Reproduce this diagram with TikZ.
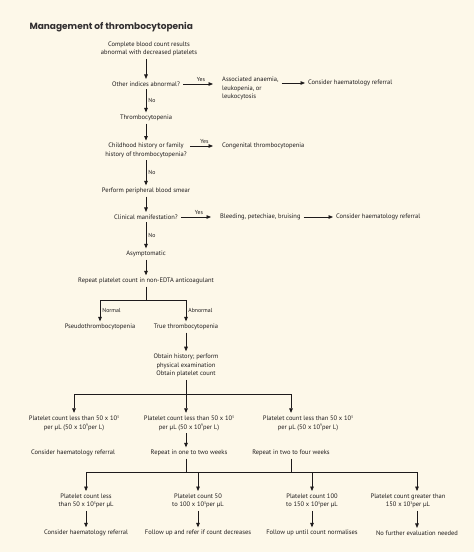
\documentclass[tikz,border=0pt]{standalone}
\usepackage{fontspec}
\setmainfont{PT Sans}
\newfontfamily\headfont{Poppins}
\usetikzlibrary{arrows.meta, positioning}
\definecolor{paper}{RGB}{253,248,233}
\definecolor{ink}{RGB}{30,27,28}
\definecolor{headink}{RGB}{50,47,48}
\newcommand{\pw}[1]{\raisebox{0.75ex}{\fontsize{3.6}{4}\selectfont #1}}

\begin{document}
\begin{tikzpicture}[
  x=1pt, y=1pt,
  >={Triangle[length=4.5pt, width=3.6pt]},
  txt/.style={inner xsep=3pt, inner ysep=2.5pt, align=center, text=ink, font=\fontsize{6.5}{8.6}\selectfont},
  side/.style={txt, anchor=west, align=left},
  tag/.style={inner sep=2pt, text=ink, font=\fontsize{5.8}{6}\selectfont},
  wire/.style={draw=ink, line width=0.75pt},
  flow/.style={wire, ->}
]
\fill[paper] (0,0) rectangle (474,-552);
\node[anchor=west, text=headink, font=\headfont\bfseries\fontsize{9}{10}\selectfont] (head) at (26,-27) {Management of thrombocytopenia};

\node[txt] (cbc) at (149,-49) {Complete blood count results\\abnormal with decreased platelets};
\node[txt] (oth) at (146,-84) {Other indices abnormal?};
\node[side] (assoc) at (219,-88.5) {Associated anaemia,\\leukopenia, or\\leukocytosis};
\node[side] (ref1) at (305,-83) {Consider haematology referral};
\node[txt] (thr) at (146,-118) {Thrombocytopenia};
\node[txt] (child) at (146,-150.5) {Childhood history or family\\history of thrombocytopenia?};
\node[side] (cong) at (219,-146) {Congenital thrombocytopenia};
\node[txt] (smear) at (146,-191) {Perform peripheral blood smear};
\node[txt] (clin) at (146,-217) {Clinical manifestation?};
\node[side] (bleed) at (217,-217) {Bleeding, petechiae, bruising};
\node[side] (ref2) at (333,-217) {Consider haematology referral};
\node[txt] (asym) at (146,-254) {Asymptomatic};
\node[txt] (rep) at (146,-281) {Repeat platelet count in non-EDTA anticoagulant};
\coordinate (split) at (146,-300);
\node[txt] (pseudo) at (100,-327) {Pseudothrombocytopenia};
\node[txt] (truet) at (186,-327) {True thrombocytopenia};
\node[txt] (hist) at (186,-365.5) {Obtain history; perform\\physical examination\\Obtain platelet count};
\coordinate (fork) at (186,-394);
\node[txt] (low) at (74,-423) {Platelet count less than 50 x 10\pw{3}\\per µL (50 x 10\pw{9}per L)};
\node[txt] (mid) at (189,-423) {Platelet count less than 50 x 10\pw{3}\\per µL (50 x 10\pw{9}per L)};
\node[txt] (high) at (308,-423) {Platelet count less than 50 x 10\pw{3}\\per µL (50 x 10\pw{9}per L)};
\node[txt] (ref3) at (73,-453) {Consider haematology referral};
\node[txt] (rpt1) at (189,-453) {Repeat in one to two weeks};
\node[txt] (rpt2) at (291,-453) {Repeat in two to four weeks};
\coordinate (bar) at (0,-472);
\node[txt] (b1) at (86,-501) {Platelet count less\\than 50 x 10\pw{3}per µL};
\node[txt] (b2) at (198,-501) {Platelet count 50\\to 100 x 10\pw{3}per µL};
\node[txt] (b3) at (312,-501) {Platelet count 100\\to 150 x 10\pw{3}per µL};
\node[txt] (b4) at (408,-501) {Platelet count greater than\\150 x 10\pw{3}per µL};
\node[txt] (e1) at (86,-533) {Consider haematology referral};
\node[txt] (e2) at (198,-533) {Follow up and refer if count decreases};
\node[txt] (e3) at (312,-533) {Follow up until count normalises};
\node[txt] (e4) at (417,-533) {No further evaluation needed};

\draw[flow] (cbc.south -| oth) -- (oth);
\draw[flow, shorten >=6pt] (oth) -- node[tag, above]{Yes} (oth -| assoc.west);
\draw[flow] (assoc.east |- ref1) -- (ref1);
\draw[flow] (oth) -- node[tag, right]{No} (thr);
\draw[flow] (thr) -- (child);
\draw[flow, shorten >=6pt] (child.east |- cong) -- node[tag, above]{Yes} (cong.west);
\draw[flow] (child) -- node[tag, right]{No} (smear);
\draw[flow] (smear) -- (clin);
\draw[flow, shorten >=6pt] (clin) -- node[tag, above]{Yes} (bleed.west);
\draw[flow] (bleed) -- (ref2);
\draw[flow] (clin) -- node[tag, right]{No} (asym);
\draw[flow] (asym) -- (rep);
\draw[wire] (rep) -- (split);
\draw[flow] (split) -| node[tag, pos=0.75, right]{Normal} (pseudo);
\draw[flow] (split) -| node[tag, pos=0.75, right]{Abnormal} (truet);
\draw[flow] (truet) -- (hist);
\draw[wire] (hist) -- (fork);
\draw[flow] (fork) -| (low);
\draw[flow] (fork) -- (mid.north -| fork);
\draw[flow] (fork) -| (high.north -| rpt2);
\draw[flow] (mid.south -| fork) -- (rpt1.north -| fork);
\draw[wire] (rpt1.south -| fork) -- (fork |- bar);
\draw[wire] (rpt2) -- (rpt2 |- bar);
\draw[wire] (b1 |- bar) -- (e4 |- bar);
\draw[flow] (b1 |- bar) -- (b1);
\draw[flow] (b2 |- bar) -- (b2);
\draw[flow] (b3 |- bar) -- (b3);
\draw[flow] (e4 |- bar) -- (b4.north -| e4);
\draw[flow] (b1) -- (e1);
\draw[flow] (b2) -- (e2);
\draw[flow] (b3) -- (e3);
\draw[flow] (b4.south -| e4) -- (e4);
\end{tikzpicture}
\end{document}
